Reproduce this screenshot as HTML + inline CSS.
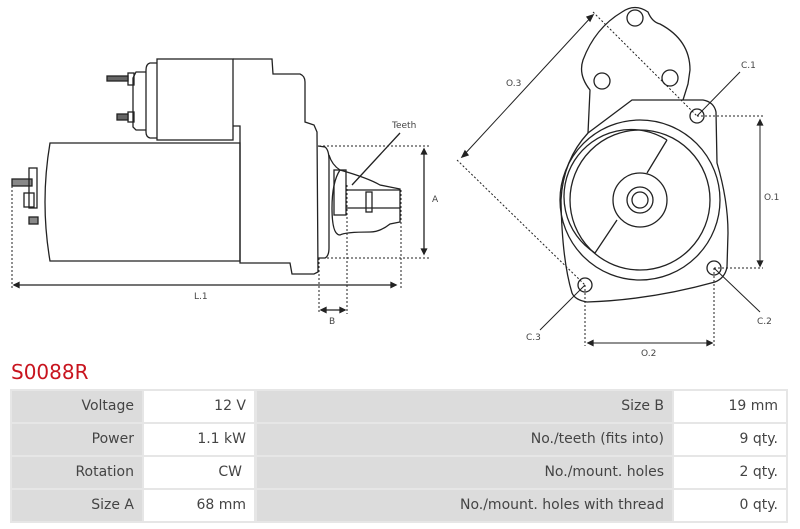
<!DOCTYPE html>
<html><head><style>
body{margin:0;width:800px;height:529px;background:#fff;font-family:"DejaVu Sans","Liberation Sans",sans-serif;overflow:hidden;position:relative}
svg{position:absolute;left:0;top:0}
.t{position:absolute;left:10px;top:389px;width:778px;height:134px;background:#e6e6e6}
.c{position:absolute;height:31px;line-height:31px;font-size:14px;color:#444;text-align:right;box-sizing:border-box;padding-right:8px}
.g{background:#dcdcdc}.w{background:#fff}
h1{position:absolute;left:11px;top:360px;margin:0;font-weight:normal;font-size:20px;color:#c8141e}
</style></head><body>
<svg width="800" height="360" viewBox="0 0 800 360" fill="none" stroke="#222" stroke-width="1.3" font-family="DejaVu Sans, sans-serif" font-size="9">
<!-- left starter -->
<path d="M50 143 L240 143 L240 261 L50 261 Q40 202 50 143 Z"/>
<rect x="157" y="59" width="76" height="81"/>
<path d="M157 63 L150 63 Q146 64 146 70 L146 132 Q146 137 150 138 L157 138"/>
<path d="M146 72 L136 72 L133 78 L133 127 L136 130 L146 130"/>
<rect x="128" y="73" width="6" height="12"/><rect x="107" y="76" width="21" height="5" fill="#666"/>
<rect x="128" y="112" width="6" height="10"/><rect x="117" y="114" width="11" height="6" fill="#666"/>
<path d="M233 59 L272 59 L273 74 L300 74 Q305 76 305 82 L305 122 L314 125 L317 132 L318 272 L314 274 L292 274 L290 263 L240 263 L240 126 L233 126"/>
<path d="M318 146 L325 147 Q329 150 329 160 L329 248 Q329 256 325 258 L318 258"/>
<path d="M329 155 Q332 165 340 170 Q368 178 380 185 L390 187 L400 189 L400 222 L390 224 Q380 232 370 232 Q345 232 340 235 Q332 235 332 208 Q332 182 340 170"/>
<rect x="334" y="170" width="12" height="45"/>
<path d="M346 190 L400 190 M346 208 L400 208"/>
<rect x="366" y="192" width="6" height="20"/>
<rect x="12" y="179" width="20" height="7" fill="#888"/>
<rect x="29" y="168" width="8" height="40"/><rect x="24" y="193" width="10" height="14"/>
<rect x="29" y="217" width="9" height="7" fill="#888"/>
<g stroke-dasharray="2 2" stroke-width="1"><path d="M12 186 L12 288 M319 146 L430 146 M319 258 L430 258 M401 190 L401 288 M319 258 L319 314 M347 185 L347 314"/></g>
<path d="M14 285 L396 285 M424 149 L424 254 M321 310 L345 310 M352 185 L400 133"/>
<path d="M14 285 l5 -2.5 l0 5 z M396 285 l-5 -2.5 l0 5 z M424 149 l-2.5 5 l5 0 z M424 254 l-2.5 -5 l5 0 z M321 310 l5 -2.5 l0 5 z M345 310 l-5 -2.5 l0 5 z" fill="#222"/>
<g fill="#444" stroke="none"><text x="194" y="299">L.1</text><text x="432" y="202">A</text><text x="329" y="324">B</text><text x="392" y="128">Teeth</text></g>
<!-- right view -->
<path d="M588 133 L590 90 Q578 75 583 60 Q595 28 622 12 Q635 3 648 12 Q652 22 660 24 Q690 40 690 70 L688 84 L683 100"/>
<path d="M632 100 L703 100 Q714 102 716 112 L717 163 Q728 200 728 233 L727 267 Q725 278 715 282 Q650 300 587 302 Q575 300 572 293 Q562 260 561 200 Q563 160 588 133 Z"/>
<circle cx="640" cy="200" r="80"/><circle cx="640" cy="200" r="70"/>
<path d="M667 140 A65 65 0 1 0 595 253 M667 140 L647 173 M617 220 L595 253"/>
<circle cx="640" cy="200" r="27"/><circle cx="640" cy="200" r="13"/><circle cx="640" cy="200" r="8"/>
<circle cx="635" cy="18" r="8"/><circle cx="602" cy="81" r="8"/><circle cx="670" cy="78" r="8"/>
<circle cx="697" cy="116" r="7"/><circle cx="714" cy="268" r="7"/><circle cx="585" cy="285" r="7"/>
<g stroke-dasharray="2 2" stroke-width="1"><path d="M593 12 L697 116 M457 160 L585 285 M697 116 L763 116 M714 268 L763 268 M585 285 L585 346 M714 268 L714 346"/></g>
<path d="M593 15 L462 157 M760 120 L760 266 M588 343 L712 343 M697 116 L740 72 M714 268 L760 312 M585 285 L540 330" stroke-width="1"/>
<path d="M593 15 l-6 2 l3 4 z M462 157 l6 -2 l-3 -4 z M760 120 l-2.5 5 l5 0 z M760 266 l-2.5 -5 l5 0 z M588 343 l5 -2.5 l0 5 z M712 343 l-5 -2.5 l0 5 z" fill="#222"/>
<g fill="#444" stroke="none"><text x="506" y="86">O.3</text><text x="741" y="68">C.1</text><text x="764" y="200">O.1</text><text x="757" y="324">C.2</text><text x="526" y="340">C.3</text><text x="641" y="356">O.2</text></g>
</svg>
<h1>S0088R</h1>
<div class="t">
<div class="c g" style="left:2px;top:2px;width:130px">Voltage</div><div class="c w" style="left:134px;top:2px;width:110px">12 V</div><div class="c g" style="left:247px;top:2px;width:415px">Size B</div><div class="c w" style="left:664px;top:2px;width:112px">19 mm</div>
<div class="c g" style="left:2px;top:35px;width:130px">Power</div><div class="c w" style="left:134px;top:35px;width:110px">1.1 kW</div><div class="c g" style="left:247px;top:35px;width:415px">No./teeth (fits into)</div><div class="c w" style="left:664px;top:35px;width:112px">9 qty.</div>
<div class="c g" style="left:2px;top:68px;width:130px">Rotation</div><div class="c w" style="left:134px;top:68px;width:110px;padding-right:12px">CW</div><div class="c g" style="left:247px;top:68px;width:415px">No./mount. holes</div><div class="c w" style="left:664px;top:68px;width:112px">2 qty.</div>
<div class="c g" style="left:2px;top:101px;width:130px">Size A</div><div class="c w" style="left:134px;top:101px;width:110px">68 mm</div><div class="c g" style="left:247px;top:101px;width:415px">No./mount. holes with thread</div><div class="c w" style="left:664px;top:101px;width:112px">0 qty.</div>
</div>
</body></html>
